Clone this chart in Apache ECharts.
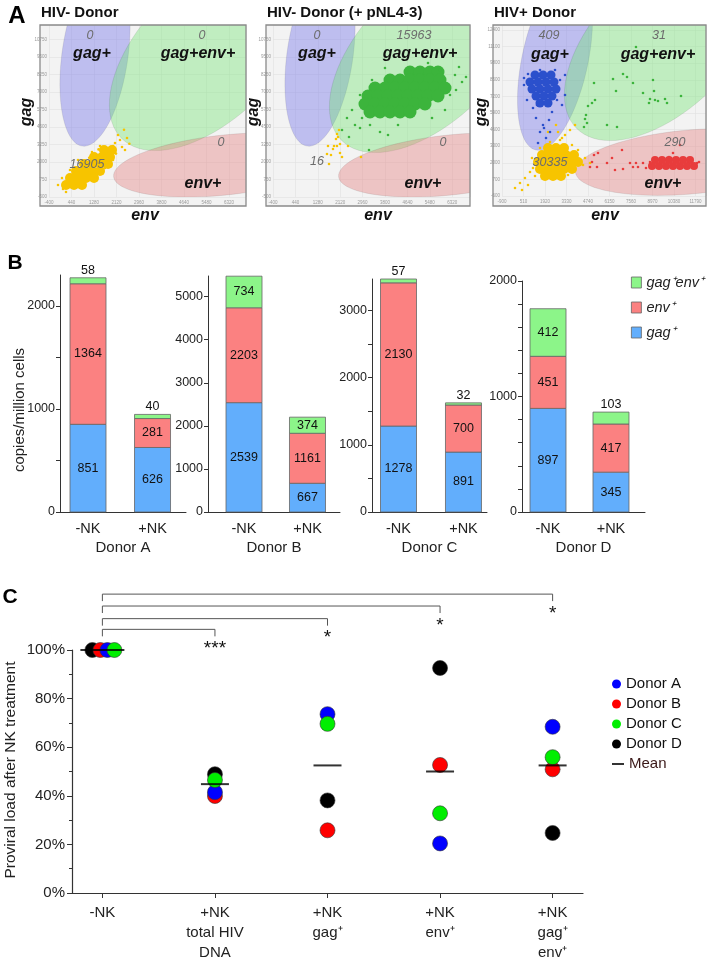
<!DOCTYPE html>
<html lang="en">
<head>
<meta charset="UTF-8">
<meta name="viewport" content="width=device-width, initial-scale=1.0">
<title>Proviral load after NK treatment</title>
<script src="https://cdn.jsdelivr.net/npm/echarts@6.0.0/dist/echarts.min.js"></script>
<style>
  body { margin: 0; background: #fff; }
  #chart { width: 708px; height: 963px; }
</style>
</head>
<body>
<div id="chart"></div>
<script type="text/javascript">
// ---------- panel A: droplets, [env, gag] ----------
var a1NegCore = [[1653,2857],[1952,2857],[1280,2357],[1579,2357],[1877,2357],[907,1857],[1205,1857],[1504,1857],[1803,1857],
  [608,1357],[907,1357],[1205,1357],[1504,1357],[384,857],[683,857],[981,857],[1280,857],[235,357],[533,357],[832,357]];
var a1Neg = [[123,71],[309,286],[2064,3357],[2250,3571],[2325,3071],[1989,2143],[85,857],[1691,1571],[2176,3929],[2437,2857],[1504,3143],[384,1429],[683,2143],[1915,1714],[2512,3714],[-64,357],[1205,2714],[907,714],[235,-143],[1877,2857],[1989,3143],[2400,4300],[2600,3300],[1300,900],[600,300],[1800,2300],[400,1000],[2100,2600],[1100,2300],[1600,1200],[800,1800],[1450,2900]];

var a2Neg = [[2000,4000],[2038,3786],[1888,3143],[2000,3143],[2113,3286],[1663,3143],[1850,2929],[1625,2571],[1775,2500],[2113,2643],[2413,3143],[1700,1857],[1963,3643],[2900,2357],[2188,2357],[2075,4286]];
var a2DblCore = [[4738,8429],[5113,8429],[5488,8429],[5788,8429],
  [3988,7857],[4363,7857],[4738,7857],[5113,7857],[5488,7857],[5863,7857],
  [3425,7286],[3800,7286],[4175,7286],[4550,7286],[4925,7286],[5300,7286],[5675,7286],[6050,7286],
  [3163,6714],[3538,6714],[3913,6714],[4288,6714],[4663,6714],[5038,6714],[5413,6714],[5788,6714],
  [3050,6143],[3425,6143],[3800,6143],[4175,6143],[4550,6143],[4925,6143],[5300,6143],
  [3238,5571],[3613,5571],[3988,5571],[4363,5571],[4738,5571]];
var a2Dbl = [[2188,4286],[2450,3786],[2675,4643],[2863,4429],[2375,5143],[2563,5714],[3200,2857],[3913,3929],[3238,4643],[2938,5143],[6425,8214],[6688,7714],[6238,6786],[6838,8071],[5563,5143],[6050,5714],[5113,8714],[3800,8714],[3313,7857],[2863,6786],[4288,4643],[3613,4143],[6463,7143],[5863,8571],[5413,9071],[6575,8786]];

var a3NegCore = [[2117,3158],[2641,3158],[3166,3158],[1723,2610],[2248,2610],[2773,2610],[3297,2610],[3822,2610],
  [1461,2062],[1986,2062],[2510,2062],[3035,2062],[3559,2062],[4084,2062],
  [1592,1514],[2117,1514],[2641,1514],[3166,1514],[3690,1514],[1920,966],[2445,966],[2969,966]];
var a3Neg = [[-47,26],[280,418],[608,809],[936,1279],[805,261],[1264,966],[2904,3785],[3232,4176],[3559,4568],[3887,4959],[2773,4411],[2248,3628],[4215,2219],[4412,1827],[4084,3002],[4543,2375],[1592,3158],[1067,2375],[3690,3393],[3428,1044],[1920,809],[412,-130],[3035,3941],[2641,4959],[2117,4411],[4871,1984],[1133,1592]];
var a3GagCore = [[1264,8874],[1789,8874],[2314,8874],[936,8326],[1461,8326],[1986,8326],[2510,8326],
  [1067,7778],[1592,7778],[2117,7778],[2641,7778],[1330,7230],[1854,7230],[2379,7230],[1592,6682],[2117,6682]];
var a3Gag = [[543,8091],[2904,8483],[3232,7308],[740,6917],[1330,5507],[1789,4959],[1592,4411],[1986,3941],[1461,3550],[2182,5351],[1133,6290],[2576,9266],[1592,9266],[805,8953],[3035,6525],[2379,5977],[1854,4724],[1395,6525],[2707,6917],[2248,4411],[543,8639],[3232,8874]];
var a3EnvCore = [[9133,2219],[9593,2219],[10052,2219],[10511,2219],[10970,2219],[11429,2219],
  [8937,1749],[9396,1749],[9855,1749],[10314,1749],[10773,1749],[11232,1749],[11691,1749]];
var a3Env = [[5002,2062],[5133,2610],[5396,2767],[4871,1671],[5330,1671],[5986,1984],[6314,2375],[6510,1436],[6969,3002],[7035,1514],[7494,1984],[7690,1671],[7887,1984],[8019,1671],[8347,1984],[8543,1592],[8806,2062],[10773,3393],[10052,2454],[10314,2767],[11429,2062],[11888,1984],[12019,2062],[11167,1671]];
var a3Dbl = [[5133,8248],[6379,8561],[7035,8953],[7298,8718],[7690,8248],[7887,11067],[5199,6917],[5002,6682],[4740,6447],[4609,5742],[4543,5429],[4674,5116],[4477,4803],[5986,4959],[6642,4803],[6576,7622],[8806,6995],[9133,6917],[8740,6682],[9330,6839],[9790,6995],[9921,6682],[10839,7230],[9068,7622],[8347,7465],[9002,8483]];

// counts shown in each gate: gag+, gag+env+, env+, negative
var aCounts = [[0, 0, 0, 16905], [0, 15963, 0, 16], [409, 31, 290, 30335]];
var aTitles = ['HIV- Donor', 'HIV- Donor (+ pNL4-3)', 'HIV+ Donor'];
// tick start / interval for the tiny axes
var aXTicks = [[-400, 840], [-400, 840], [-900, 1410]];
var aYTicks = [[-500, 1250], [-500, 1250], [-600, 1300]];

// ---------- panel B ----------
var donors = ['Donor A', 'Donor B', 'Donor C', 'Donor D'];
var treatments = ['-NK', '+NK'];
var gagOnly = [[851, 626], [2539, 667], [1278, 891], [897, 345]];
var envOnly = [[1364, 281], [2203, 1161], [2130, 700], [451, 417]];
var gagEnv = [[58, 40], [734, 374], [57, 32], [412, 103]];
var bLabelValues = [[0, 1000, 2000], [0, 1000, 2000, 3000, 4000, 5000], [0, 1000, 2000, 3000], [0, 1000, 2000]];
var bTickValues = [[0, 500, 1000, 1500, 2000], [0, 1000, 2000, 3000, 4000, 5000],
  [0, 500, 1000, 1500, 2000, 2500, 3000], [0, 200, 400, 600, 800, 1000, 1200, 1400, 1600, 1800, 2000]];

// ---------- panel C ----------
var cCategories = ['-NK', '+NK\ntotal HIV\nDNA', '+NK\ngag⁺', '+NK\nenv⁺', '+NK\ngag⁺\nenv⁺'];
var donorA = [100, 41.5, 73.6, 20.4, 68.4];
var donorB = [100, 39.9, 25.8, 52.7, 50.9];
var donorC = [100, 46.5, 69.6, 32.8, 55.9];
var donorD = [100, 48.9, 38.1, 92.6, 24.7];
var means = [100, 44.8, 52.5, 50.0, 52.5];
var bracketTargets = [1, 2, 3, 4];
var bracketLevels = [108.5, 112.9, 118.1, 123.0];
var bracketStars = ['***', '*', '*', '*'];

var FONT = '"Liberation Sans", Arial, sans-serif';
var chart = echarts.init(document.getElementById('chart'));

var grids = [], xAxes = [], yAxes = [], series = [], graphics = [];
function plain(v) { return String(v); }

function addText(s, x, y, font, color, rot, align) {
  graphics.push({
    type: 'text', x: x, y: y, rotation: rot || 0, z: 100,
    style: { text: s, font: font + ' ' + FONT, fill: color, align: align || 'center', textAlign: align || 'center',
      verticalAlign: 'middle', textVerticalAlign: 'middle' }
  });
}

// ---------- panel A ----------
var gateFill = ['rgba(105,105,235,0.38)', 'rgba(110,230,110,0.38)', 'rgba(230,120,120,0.38)'];
// gate ellipses: centre in data units, radii (px) and tilt (deg)
var aGates = [
  [[1317, 9643, 92, 33, 82], [5610, 10000, 125, 68, 45], [6170, 1786, 112, 30, 6]],
  [[1363, 9643, 92, 33, 82], [5488, 9857, 125, 68, 45], [6238, 1786, 112, 30, 6]],
  [[2576, 10049, 92, 33, 78], [9790, 11615, 125, 68, 45], [11429, 2062, 115, 32, 5]]
];
function renderGate(params, api) {
  var c = api.coord([api.value(0), api.value(1)]);
  var a = api.value(2), b = api.value(3), th = api.value(4) * Math.PI / 180;
  var cs = Math.cos(th), sn = Math.sin(th), pts = [];
  for (var k = 0; k < 90; k++) {
    var t = k / 90 * 2 * Math.PI;
    var ex = a * Math.cos(t), ey = b * Math.sin(t);
    pts.push([c[0] + ex * cs + ey * sn, c[1] - ex * sn + ey * cs]);
  }
  return { type: 'polygon', shape: { points: pts },
    style: { fill: gateFill[params.dataIndex], stroke: 'rgba(0,0,0,0.1)', lineWidth: 0.8 } };
}

var aLayout = [
  { box: [40, 25, 206, 181], grid: [49, 25, 197, 172], xMax: 6954, yMax: 11786, gagX: 27, envX: 145,
    spots: [[90, 36], [202, 36], [221, 143], [87, 165]], tags: [[92, 54], [198, 54], [203, 184]],
    clouds: [[a1NegCore, '#f7c400', 10], [a1Neg, '#f7c400', 2.6]] },
  { box: [266, 25, 204, 181], grid: [273, 25, 197, 172], xMax: 6988, yMax: 11786, gagX: 254, envX: 378,
    spots: [[317, 36], [414, 36], [443, 143], [317, 162]], tags: [[317, 54], [420, 54], [423, 184]],
    clouds: [[a2Neg, '#f7c400', 2.6], [a2DblCore, '#3cb43c', 13], [a2Dbl, '#3cb43c', 2.6]] },
  { box: [493, 25, 213, 181], grid: [502, 25, 204, 171], xMax: 12478, yMax: 12789, gagX: 482, envX: 605,
    spots: [[549, 36], [659, 36], [675, 143], [550, 163]], tags: [[550, 55], [658, 55], [663, 184]],
    clouds: [[a3NegCore, '#f7c400', 10], [a3Neg, '#f7c400', 2.6], [a3GagCore, '#2b50cc', 9], [a3Gag, '#2b50cc', 2.6],
      [a3EnvCore, '#e83c3c', 8], [a3Env, '#e83c3c', 2.6], [a3Dbl, '#3cb43c', 2.6]] }
];
var gateNames = ['gag+', 'gag+env+', 'env+'];

aLayout.forEach(function (L, i) {
  graphics.push({ type: 'rect', z: -10, shape: { x: L.box[0], y: L.box[1], width: L.box[2], height: L.box[3] },
    style: { fill: '#f3f3f3', stroke: null } });
  graphics.push({ type: 'rect', z: 60, shape: { x: L.box[0], y: L.box[1], width: L.box[2], height: L.box[3] },
    style: { fill: null, stroke: '#8a8a8a', lineWidth: 1.3 } });
  grids.push({ left: L.grid[0], top: L.grid[1], width: L.grid[2], height: L.grid[3] });
  xAxes.push({ type: 'value', gridIndex: i, min: aXTicks[i][0], max: L.xMax, interval: aXTicks[i][1],
    axisLine: { show: false }, axisTick: { show: false },
    axisLabel: { fontSize: 4.5, color: '#9a9a9a', margin: 3, showMaxLabel: false, formatter: plain },
    splitLine: { show: true, lineStyle: { color: '#e0e0e0', width: 0.6 } } });
  yAxes.push({ type: 'value', gridIndex: i, min: aYTicks[i][0], max: L.yMax, interval: aYTicks[i][1],
    axisLine: { show: false }, axisTick: { show: false },
    axisLabel: { fontSize: 4.5, color: '#9a9a9a', margin: 2, showMaxLabel: false, formatter: plain },
    splitLine: { show: true, lineStyle: { color: '#e0e0e0', width: 0.6 } } });
  series.push({ type: 'custom', xAxisIndex: i, yAxisIndex: i, clip: true, silent: true, z: 2,
    data: aGates[i], renderItem: renderGate });
  L.clouds.forEach(function (cl) {
    series.push({ type: 'scatter', xAxisIndex: i, yAxisIndex: i, data: cl[0], symbolSize: cl[2],
      itemStyle: { color: cl[1], opacity: 1 }, silent: true, z: 3 });
  });
  addText(aTitles[i], L.box[0] + 1, 13, 'bold 15px', '#111', 0, 'left');
  L.spots.forEach(function (p, k) { addText(String(aCounts[i][k]), p[0], p[1], 'italic 12.5px', '#6c6c6c'); });
  L.tags.forEach(function (p, k) { addText(gateNames[k], p[0], p[1], 'italic bold 16px', '#111'); });
  addText('gag', L.gagX, 112, 'italic bold 16px', '#111', Math.PI / 2);
  addText('env', L.envX, 216, 'italic bold 16px', '#111');
});
addText('A', 17, 16, 'bold 24px', '#000');

// ---------- panel B ----------
var B_BOTTOM = 512;
var bLayout = [
  { left: 60, right: 186, top: 275, yMax: 2300, xMin: -0.434, xMax: 1.519 },
  { left: 208, right: 340, top: 276, yMax: 5480, xMin: -0.567, xMax: 1.512 },
  { left: 372, right: 487, top: 279, yMax: 3465, xMin: -0.408, xMax: 1.362 },
  { left: 522, right: 645, top: 281, yMax: 2000, xMin: -0.413, xMax: 1.54 }
];
var layers = [
  { name: 'gag⁺', vals: gagOnly, color: '#62aefc' },
  { name: 'env⁺', vals: envOnly, color: '#fb8181' },
  { name: 'gag⁺env⁺', vals: gagEnv, color: '#8cf589' }
];
function renderSegment(params, api) {
  var k = api.value(0), lo = api.value(1), v = api.value(2);
  var p0 = api.coord([k, lo]), p1 = api.coord([k, lo + v]);
  var h = p0[1] - p1[1], inside = h >= 15;
  return { type: 'group', children: [
    { type: 'rect', shape: { x: p0[0] - 18, y: p1[1], width: 36, height: h },
      style: { fill: api.visual('color'), stroke: '#666', lineWidth: 0.8 } },
    { type: 'text', z2: 10, style: { text: String(v), x: p0[0], y: inside ? p1[1] + h / 2 : p1[1] - 1,
      align: 'center', verticalAlign: inside ? 'middle' : 'bottom', font: '12.5px ' + FONT, fill: '#111' } }
  ]};
}
bLayout.forEach(function (L, d) {
  var gi = 3 + d;
  grids.push({ left: L.left, top: L.top, width: L.right - L.left, height: B_BOTTOM - L.top });
  xAxes.push({ type: 'value', gridIndex: gi, min: L.xMin, max: L.xMax,
    axisLine: { show: true, onZero: false, lineStyle: { color: '#333', width: 1 } }, axisTick: { show: false },
    splitLine: { show: false },
    axisLabel: { customValues: [0, 1], formatter: function (v) { return treatments[Math.round(v)]; },
      fontSize: 14.5, color: '#222', margin: 9 },
    name: donors[d], nameLocation: 'middle', nameGap: 28, nameTextStyle: { fontSize: 15, color: '#222' } });
  yAxes.push({ type: 'value', gridIndex: gi, min: 0, max: L.yMax,
    axisLine: { show: true, onZero: false, lineStyle: { color: '#333', width: 1 } },
    axisTick: { show: true, length: 4, customValues: bTickValues[d], lineStyle: { color: '#333' } },
    axisLabel: { customValues: bLabelValues[d], fontSize: 12.5, color: '#222', margin: 5, formatter: plain },
    splitLine: { show: false } });
  layers.forEach(function (ly, li) {
    var data = treatments.map(function (t, k) {
      var base = 0;
      for (var j = 0; j < li; j++) base += layers[j].vals[d][k];
      return [k, base, ly.vals[d][k]];
    });
    series.push({ type: 'custom', name: ly.name, xAxisIndex: gi, yAxisIndex: gi, data: data, z: 3,
      itemStyle: { color: ly.color, borderColor: '#666', borderWidth: 0.8 }, renderItem: renderSegment });
  });
});
addText('B', 15, 263, 'bold 21px', '#000');
addText('copies/million cells', 20, 410, '15px', '#222', Math.PI / 2);

// ---------- panel C ----------
grids.push({ left: 72, top: 650, width: 511, height: 248 });
xAxes.push({ type: 'value', gridIndex: 7, min: -0.27, max: 4.27,
  axisLine: { show: true, onZero: false, lineStyle: { color: '#333', width: 1.2 } },
  axisTick: { show: true, customValues: [0, 1, 2, 3, 4], length: 5, lineStyle: { color: '#333' } },
  axisLabel: { customValues: [0, 1, 2, 3, 4], formatter: function (v) { return cCategories[Math.round(v)]; },
    fontSize: 15, lineHeight: 20, color: '#222', margin: 10 },
  splitLine: { show: false } });
yAxes.push({ type: 'value', gridIndex: 7, min: 0, max: 100, interval: 20,
  axisLine: { show: true, onZero: false, lineStyle: { color: '#333', width: 1.2 } },
  axisTick: { show: true, length: 5, lineStyle: { color: '#333' } },
  minorTick: { show: true, splitNumber: 2, length: 3, lineStyle: { color: '#333' } },
  axisLabel: { formatter: '{value}%', fontSize: 15, color: '#222', margin: 7 },
  splitLine: { show: false } });

var donorSeries = [
  { name: 'Donor D', vals: donorD, color: '#000000', jitter: -10 },
  { name: 'Donor B', vals: donorB, color: '#ff0000', jitter: -2 },
  { name: 'Donor A', vals: donorA, color: '#0000ff', jitter: 5 },
  { name: 'Donor C', vals: donorC, color: '#00ee00', jitter: 12 }
];
donorSeries.forEach(function (s) {
  series.push({ type: 'scatter', name: s.name, xAxisIndex: 7, yAxisIndex: 7, symbolSize: 15, z: 4,
    itemStyle: { color: s.color, borderColor: '#333', borderWidth: 0.6, opacity: 1 },
    data: s.vals.map(function (v, i) {
      return i === 0 ? { value: [i, v], symbolOffset: [s.jitter, 0] } : [i, v];
    }) });
});
series.push({ type: 'scatter', name: 'Mean', xAxisIndex: 7, yAxisIndex: 7, symbol: 'rect', symbolSize: [28, 2], z: 5,
  itemStyle: { color: '#000' },
  data: means.map(function (v, i) { return i === 0 ? { value: [i, v], symbolSize: [44, 2] } : [i, v]; }) });

function renderBracket(params, api) {
  var lvl = api.value(1);
  var p0 = api.coord([0, lvl]), p1 = api.coord([api.value(0), lvl]);
  var drop = 7;
  return { type: 'group', children: [
    { type: 'polyline', shape: { points: [[p0[0], p0[1] + drop], [p0[0], p0[1]], [p1[0], p1[1]], [p1[0], p1[1] + drop]] },
      style: { stroke: '#555', lineWidth: 1, fill: null } },
    { type: 'text', style: { text: bracketStars[params.dataIndex], x: p1[0], y: p1[1] + drop + 3,
      align: 'center', verticalAlign: 'top', font: '19px ' + FONT, fill: '#111' } }
  ]};
}
series.push({ type: 'custom', xAxisIndex: 7, yAxisIndex: 7, clip: false, silent: true, z: 3,
  data: bracketTargets.map(function (t, i) { return [t, bracketLevels[i]]; }), renderItem: renderBracket });

addText('C', 10, 597, 'bold 21px', '#000');
addText('Proviral load after NK treatment', 11, 770, '15.5px', '#222', Math.PI / 2);

chart.setOption({
  animation: false,
  textStyle: { fontFamily: FONT },
  grid: grids,
  xAxis: xAxes,
  yAxis: yAxes,
  series: series,
  legend: [
    { data: [{ name: 'gag⁺env⁺', icon: 'rect' }, { name: 'env⁺', icon: 'rect' }, { name: 'gag⁺', icon: 'rect' }],
      orient: 'vertical', left: 631, top: 270, padding: 0, itemWidth: 10, itemHeight: 11, itemGap: 0,
      selectedMode: false, itemStyle: { borderColor: '#666', borderWidth: 0.8 },
      textStyle: { fontSize: 14.5, fontStyle: 'italic', color: '#222', lineHeight: 25 } },
    { data: ['Donor A', 'Donor B', 'Donor C', 'Donor D'], icon: 'circle', orient: 'vertical', left: 612, top: 674,
      padding: 0, itemWidth: 9, itemHeight: 9, itemGap: 0, selectedMode: false, itemStyle: { borderWidth: 0 },
      textStyle: { fontSize: 15, color: '#111', lineHeight: 20 } },
    { data: [{ name: 'Mean', icon: 'rect' }], orient: 'vertical', left: 612, top: 754, padding: 0,
      itemWidth: 12, itemHeight: 2, selectedMode: false,
      textStyle: { fontSize: 15, color: '#3a1818', lineHeight: 20 } }
  ],
  graphic: { elements: graphics }
});
</script>
</body>
</html>
